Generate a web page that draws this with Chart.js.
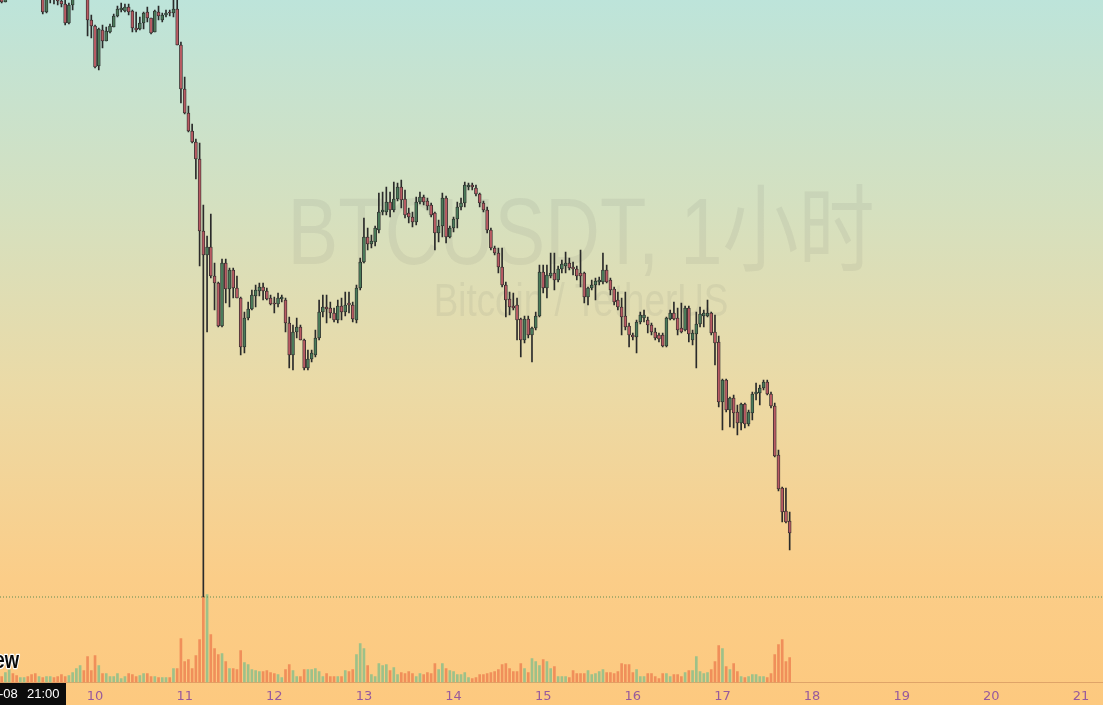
<!DOCTYPE html>
<html>
<head>
<meta charset="utf-8">
<title>BTCUSDT 1小时</title>
<script src="https://cdn.jsdelivr.net/npm/chart.js@4.4.0/dist/chart.umd.min.js"></script>
<style>
  html, body { margin: 0; padding: 0; background: #fdca80; overflow: hidden; }
</style>
</head>
<body>
<canvas id="chart" width="1103" height="705"></canvas>
<script>
// BTCUSDT 1h candles, hour 0 = day 9 00:00, first candle is day 8 23:00
const firstHour = -1;
const dayLabels = ['10', '11', '12', '13', '14', '15', '16', '17', '18', '19', '20', '21'];
const titleText = 'BTCUSDT, 1小时';
const subtitleText = 'Bitcoin / TetherUS';
const crosshairDate = '-08';
const crosshairTime = '21:00';
const crosshairPrice = 34030;

const opens = [
  40060, 39980, 40080, 40200, 40140, 40100, 40160, 40220, 40150, 40080,
  40030, 40060, 39880, 40040, 40060, 40030, 39990, 39960, 39770, 39950,
  40030, 40100, 40160, 40030, 39800, 39740, 39340, 39700, 39590, 39680,
  39730, 39840, 39900, 39890, 39930, 39890, 39720, 39710, 39770, 39880,
  39820, 39680, 39880, 39800, 39850, 39880, 39870, 39910, 39550, 39110,
  38870, 38690, 38580, 38410, 37690, 37450, 37530, 37240, 37170, 36740,
  37370, 37110, 37300, 37120, 37020, 36530, 36820, 36910, 37040, 37090,
  37130, 37090, 37020, 36970, 36960, 37010, 37000, 36770, 36450, 36680,
  36730, 36600, 36320, 36410, 36450, 36620, 36880, 36930, 36920, 36870,
  36800, 36940, 36880, 36970, 36950, 36800, 37120, 37380, 37630, 37560,
  37580, 37700, 37880, 37880, 37980, 37900, 38010, 38130, 38010, 37870,
  37830, 37780, 37980, 38030, 37990, 37950, 37870, 37670, 37740, 38020,
  37630, 37720, 37810, 37930, 37970, 38130, 38150, 38120, 38060, 37970,
  37900, 37700, 37520, 37470, 37330, 37150, 37010, 36940, 36950, 36810,
  36600, 36810, 36650, 36720, 36840, 37280, 37120, 37240, 37270, 37200,
  37310, 37340, 37370, 37330, 37310, 37270, 37270, 37030, 37120, 37150,
  37180, 37180, 37300, 37200, 37110, 37000, 36930, 36840, 36740, 36650,
  36630, 36780, 36820, 36800, 36750, 36680, 36650, 36650, 36540, 36810,
  36870, 36820, 36720, 36700, 36920, 36600, 36660, 36760, 36840, 36840,
  36870, 36680, 36580, 35980, 36200, 35900, 36020, 35880, 35770, 35960,
  35760, 35870, 36060, 36070, 36120, 36180, 36060, 35940, 35450, 35120,
  34890, 34790
];
const highs = [
  40090, 40120, 40240, 40250, 40180, 40200, 40260, 40250, 40180, 40120,
  40100, 40080, 40080, 40100, 40090, 40060, 40020, 40000, 39970, 40080,
  40150, 40220, 40180, 40050, 39850, 39750, 39720, 39750, 39730, 39760,
  39860, 39940, 39970, 39960, 39960, 39900, 39880, 39830, 39880, 39930,
  39820, 39900, 39940, 39870, 39900, 39900, 40020, 40030, 39580, 39230,
  38940, 38760, 38610, 38570, 37950, 37640, 37860, 37370, 37180, 37410,
  37410, 37320, 37320, 37240, 37030, 36880, 36980, 37100, 37150, 37170,
  37170, 37120, 37050, 37030, 37070, 37050, 37020, 36830, 36750, 36820,
  36750, 36610, 36500, 36500, 36700, 37000, 37050, 37050, 36980, 36920,
  37000, 37020, 37080, 37080, 36980, 37150, 37420, 37820, 37720, 37650,
  37740, 38070, 38080, 38130, 38080, 38180, 38170, 38200, 38100, 37920,
  37880, 38030, 38080, 38050, 38020, 37970, 37880, 37800, 38070, 38040,
  37740, 37830, 37980, 38020, 38180, 38170, 38170, 38150, 38070, 37990,
  37930, 37720, 37540, 37520, 37520, 37180, 37080, 37070, 37020, 36820,
  36840, 36840, 36730, 36880, 37350, 37350, 37350, 37470, 37470, 37340,
  37400, 37480, 37420, 37380, 37340, 37500, 37280, 37130, 37200, 37220,
  37230, 37470, 37350, 37220, 37130, 37080, 37020, 37080, 36770, 36670,
  36800, 36880, 36900, 36830, 36770, 36720, 36670, 36670, 36830, 36900,
  36980, 36920, 36970, 36940, 36940, 36700, 36880, 36930, 36900, 37000,
  36880, 36850, 36640, 36210, 36210, 36030, 36050, 35950, 35970, 35970,
  35900, 36080, 36170, 36150, 36200, 36200, 36080, 35970, 35500, 35130,
  35120, 34880
];
const lows = [
  39970, 39980, 40060, 40100, 40060, 40080, 40140, 40120, 40050, 40010,
  40010, 39860, 39870, 39970, 39960, 39950, 39930, 39750, 39760, 39900,
  40010, 40080, 40010, 39640, 39620, 39320, 39300, 39520, 39590, 39670,
  39730, 39830, 39880, 39880, 39850, 39680, 39680, 39700, 39710, 39780,
  39660, 39680, 39800, 39780, 39830, 39840, 39830, 39550, 38970, 38860,
  38680, 38570, 38210, 37340, 34030, 36680, 37220, 36900, 36730, 36730,
  36970, 36930, 37020, 37020, 36450, 36470, 36800, 36900, 36930, 37040,
  37000, 37000, 36950, 36870, 36930, 36980, 36680, 36320, 36300, 36620,
  36600, 36300, 36300, 36380, 36430, 36600, 36830, 36770, 36820, 36780,
  36770, 36800, 36840, 36870, 36780, 36770, 37100, 37370, 37500, 37520,
  37540, 37670, 37850, 37850, 37830, 37880, 37990, 37920, 37820, 37770,
  37730, 37750, 37960, 37950, 37900, 37830, 37500, 37580, 37630, 37570,
  37620, 37680, 37720, 37900, 37930, 38100, 38100, 38040, 37930, 37880,
  37670, 37500, 37450, 37270, 37130, 36830, 36850, 36900, 36600, 36430,
  36570, 36620, 36380, 36700, 36830, 37070, 37020, 37220, 37100, 37180,
  37270, 37270, 37300, 37250, 37200, 37130, 36970, 36950, 37100, 37000,
  37150, 37160, 37170, 37050, 36950, 36900, 36650, 36700, 36530, 36600,
  36470, 36760, 36780, 36670, 36650, 36600, 36580, 36530, 36530, 36800,
  36800, 36650, 36670, 36690, 36580, 36550, 36320, 36730, 36730, 36830,
  36650, 36350, 35930, 35700, 35880, 35730, 35720, 35650, 35700, 35720,
  35740, 35800, 36000, 35950, 36100, 36050, 35920, 35430, 35090, 34780,
  34770, 34500
];
const closes = [
  39980, 40080, 40200, 40140, 40100, 40160, 40220, 40150, 40080, 40030,
  40060, 39880, 40040, 40060, 40030, 39990, 39960, 39770, 39950, 40030,
  40100, 40160, 40030, 39800, 39740, 39330, 39710, 39590, 39690, 39740,
  39840, 39910, 39920, 39930, 39880, 39720, 39700, 39770, 39870, 39820,
  39670, 39890, 39840, 39850, 39870, 39870, 39910, 39550, 39110, 38870,
  38690, 38580, 38410, 37690, 37450, 37530, 37240, 37170, 36740, 37370,
  37110, 37300, 37120, 37020, 36530, 36820, 36910, 37050, 37100, 37130,
  37090, 37010, 36960, 36960, 37020, 37030, 36770, 36450, 36680, 36730,
  36600, 36320, 36410, 36470, 36620, 36880, 36930, 36910, 36870, 36800,
  36940, 36880, 36950, 36950, 36810, 37120, 37380, 37630, 37560, 37590,
  37720, 37880, 37900, 37980, 37900, 38010, 38130, 38000, 37850, 37830,
  37780, 37980, 38030, 37980, 37940, 37850, 37670, 37740, 38020, 37630,
  37720, 37810, 37930, 37970, 38150, 38150, 38130, 38060, 37970, 37900,
  37700, 37520, 37470, 37330, 37150, 37000, 36930, 36920, 36800, 36600,
  36810, 36650, 36720, 36840, 37280, 37120, 37250, 37270, 37200, 37310,
  37360, 37370, 37320, 37310, 37240, 37240, 37030, 37120, 37150, 37190,
  37200, 37300, 37180, 37100, 36980, 36930, 36830, 36730, 36650, 36630,
  36780, 36850, 36850, 36750, 36680, 36620, 36610, 36540, 36820, 36870,
  36810, 36700, 36680, 36920, 36660, 36670, 36760, 36860, 36870, 36870,
  36670, 36570, 35980, 36200, 35900, 36020, 35870, 35770, 35960, 35760,
  35880, 36060, 36080, 36120, 36180, 36060, 35940, 35440, 35110, 34880,
  34780, 34670
];
const volumes = [
  600, 1000, 1300, 900, 700, 500, 500, 600, 800, 900,
  600, 500, 600, 600, 500, 600, 800, 600, 700, 1000,
  1400, 1700, 1200, 2600, 1200, 2700, 1700, 900, 900, 600,
  600, 900, 400, 600, 900, 800, 600, 700, 900, 900,
  600, 600, 500, 500, 500, 500, 1400, 1400, 4400, 2100,
  2300, 1400, 2700, 4300, 8600, 8800, 4800, 3400, 2800, 2900,
  2100, 1400, 1400, 1300, 3200, 2000, 1800, 1300, 1200, 1100,
  1100, 1200, 1000, 900, 800, 500, 1300, 1800, 1200, 600,
  600, 1300, 1300, 1300, 1400, 1100, 600, 900, 600, 600,
  600, 600, 1200, 1100, 1300, 2800, 3900, 3400, 1700, 800,
  600, 1900, 1700, 1800, 1200, 1500, 800, 1000, 900, 1100,
  900, 600, 900, 800, 1000, 900, 1900, 1300, 1900, 1400,
  1200, 1100, 800, 800, 1000, 500, 400, 500, 800, 800,
  900, 1000, 1100, 1300, 1800, 1900, 1400, 1100, 1100, 1900,
  1400, 1000, 2400, 2100, 1700, 2300, 2100, 1400, 1600, 600,
  600, 600, 500, 1200, 900, 900, 900, 1200, 800, 900,
  1100, 1300, 1000, 1000, 900, 1100, 1900, 1800, 1800, 1000,
  1300, 600, 600, 900, 900, 600, 400, 900, 900, 600,
  800, 800, 600, 1000, 1200, 1200, 2600, 1100, 900, 1000,
  1300, 2100, 3700, 3400, 1600, 1300, 1900, 1100, 600, 500,
  600, 800, 800, 600, 600, 500, 900, 2800, 3800, 4300,
  2100, 2500
];

const UP = '#4a7b5a';
const DOWN = '#b85b63';
const VOL_UP = '#9dc189';
const VOL_DOWN = '#f08f5a';
const WICK = '#2a2a2a';

const X_MIN = -1.45;
const X_MAX = 293.9;

const hours = opens.map((o, i) => firstHour + i);
const isUp = opens.map((o, i) => closes[i] >= o);

// fond en dégradé
const backgroundPlugin = {
  id: 'background',
  beforeDraw(chart) {
    const { ctx, width, height } = chart;
    const g = ctx.createLinearGradient(0, 0, 0, height);
    g.addColorStop(0, '#bde4da');
    g.addColorStop(0.3, '#d5e0bf');
    g.addColorStop(0.55, '#ebdaa6');
    g.addColorStop(0.82, '#fbcd88');
    g.addColorStop(1, '#fdc97f');
    ctx.save();
    ctx.fillStyle = g;
    ctx.fillRect(0, 0, width, height);
    ctx.restore();
  }
};

// filigrane du symbole
const watermarkPlugin = {
  id: 'watermark',
  beforeDatasetsDraw(chart) {
    const ctx = chart.ctx;
    ctx.save();
    ctx.fillStyle = 'rgba(105, 105, 105, 0.09)';
    ctx.textAlign = 'center';
    ctx.textBaseline = 'alphabetic';
    ctx.translate(581, 0);
    ctx.scale(0.8, 1);
    ctx.font = '95px "Liberation Sans", "Noto Sans CJK SC", sans-serif';
    ctx.fillText(titleText, 0, 264);
    ctx.font = '46px "Liberation Sans", sans-serif';
    ctx.fillText(subtitleText, 0, 316);
    ctx.restore();
  }
};

// étiquette de temps et logo en bas à gauche
const overlayPlugin = {
  id: 'overlay',
  afterDraw(chart) {
    const ctx = chart.ctx;
    ctx.save();
    ctx.translate(19, 0);
    ctx.scale(0.8, 1);
    ctx.font = 'bold 23px "Liberation Sans", sans-serif';
    ctx.textAlign = 'right';
    ctx.textBaseline = 'alphabetic';
    ctx.lineJoin = 'round';
    ctx.lineWidth = 2.5;
    ctx.strokeStyle = '#ffffff';
    ctx.strokeText('ew', 0, 668);
    ctx.fillStyle = '#0a0a0a';
    ctx.fillText('ew', 0, 668);
    ctx.restore();

    ctx.save();
    ctx.fillStyle = '#0c0c0c';
    ctx.fillRect(0, 683, 66, 22);
    ctx.fillStyle = '#ffffff';
    ctx.font = '13px "Liberation Sans", sans-serif';
    ctx.textBaseline = 'middle';
    ctx.textAlign = 'left';
    ctx.fillText(crosshairDate, -1, 694.5);
    ctx.fillText(crosshairTime, 27, 694.5);
    ctx.restore();
  }
};

const ctx = document.getElementById('chart').getContext('2d');
new Chart(ctx, {
  type: 'bar',
  data: {
    datasets: [
      {
        type: 'line',
        label: 'crosshair',
        data: [{ x: X_MIN, y: crosshairPrice }, { x: X_MAX, y: crosshairPrice }],
        borderColor: '#5e8a50',
        borderWidth: 1,
        borderDash: [1, 2],
        pointRadius: 0,
        yAxisID: 'y',
        order: 1
      },
      {
        label: 'bodies',
        data: hours.map((h, i) => ({ x: h, y: [opens[i], closes[i]] })),
        backgroundColor: isUp.map(u => u ? UP : DOWN),
        borderColor: WICK,
        borderWidth: 0.8,
        borderSkipped: false,
        barThickness: 3,
        minBarLength: 1,
        grouped: false,
        yAxisID: 'y',
        order: 2
      },
      {
        label: 'wicks',
        data: hours.map((h, i) => ({ x: h, y: [lows[i], highs[i]] })),
        backgroundColor: WICK,
        barThickness: 1,
        grouped: false,
        yAxisID: 'y',
        order: 3
      },
      {
        label: 'volume',
        data: hours.map((h, i) => ({ x: h, y: volumes[i] })),
        backgroundColor: isUp.map(u => u ? VOL_UP : VOL_DOWN),
        barThickness: 2,
        grouped: false,
        yAxisID: 'yv',
        order: 4
      }
    ]
  },
  options: {
    responsive: false,
    animation: false,
    events: [],
    layout: { padding: 0 },
    plugins: {
      legend: { display: false },
      tooltip: { enabled: false }
    },
    scales: {
      x: {
        type: 'linear',
        min: X_MIN,
        max: X_MAX,
        offset: false,
        grid: { display: false, drawTicks: false, offset: false },
        border: { display: true, color: '#dfa468', width: 1 },
        ticks: {
          color: '#985a9c',
          font: { family: '"DejaVu Sans", sans-serif', size: 13 },
          padding: 6,
          maxRotation: 0,
          autoSkip: false,
          callback: (value, index) => dayLabels[index]
        },
        afterBuildTicks: scale => {
          scale.ticks = dayLabels.map((d, i) => ({ value: 24 * (i + 1) }));
        },
        afterFit: scale => { scale.height = 22.5; }
      },
      y: { display: false, min: 33175, max: 40000 },
      yv: { display: false, min: 0, max: 68250, position: 'right' }
    }
  },
  plugins: [backgroundPlugin, watermarkPlugin, overlayPlugin]
});
</script>
</body>
</html>
